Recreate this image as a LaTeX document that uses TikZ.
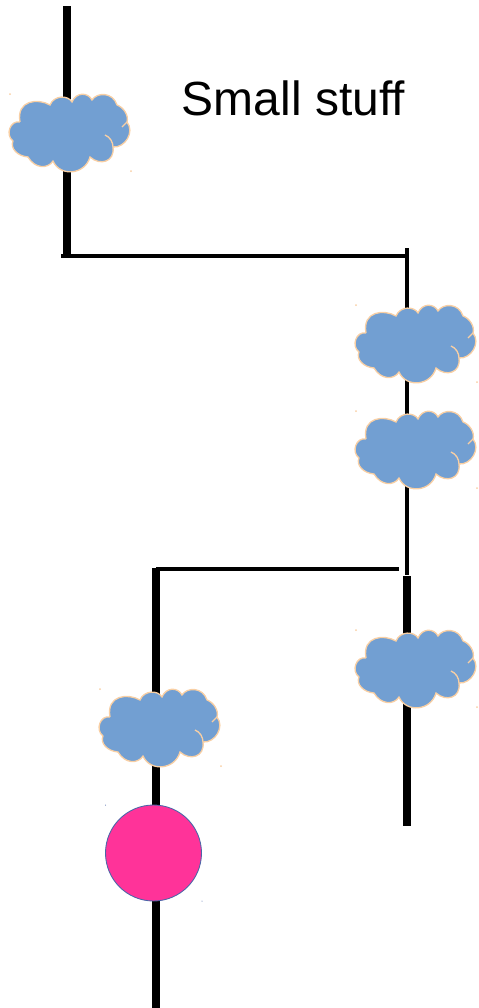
\documentclass[tikz,border=0pt]{standalone}
\usepackage{fontspec}
\setmainfont{Liberation Sans}
\definecolor{cloudblue}{HTML}{729FD2}
\definecolor{cloudedge}{HTML}{F8CFA4}
\definecolor{dotpink}{HTML}{FF3399}
\definecolor{dotedge}{HTML}{4A66A8}
\tikzset{
  thinline/.style={line width=2.2pt},
  thickline/.style={line width=4.2pt},
  cloudline/.style={draw=cloudedge,line width=0.75pt},
  pics/smallcloud/.style={code={
    \fill[cloudblue] (20,42) .. controls (10,40) and (5,55) .. (13,61)
      .. controls (10,68) and (17,76) .. (28,77)
      .. controls (35,89) and (48,89) .. (53,81)
      .. controls (60,97) and (85,95) .. (90,77)
      .. controls (100,86) and (115,82) .. (113,67)
      .. controls (125,68) and (135,52) .. (127,42)
      .. controls (129,35) and (123,27) .. (117,25)
      .. controls (113,12) and (97,12) .. (92,20)
      .. controls (88,12) and (76,12) .. (72,22)
      .. controls (68,15) and (54,15) .. (50,25)
      .. controls (38,18) and (16,20) .. (20,42) -- cycle;
    \draw[cloudline] (20,42) .. controls (10,40) and (5,55) .. (13,61)
      .. controls (10,68) and (17,76) .. (28,77)
      .. controls (35,89) and (48,89) .. (53,81)
      .. controls (60,97) and (85,95) .. (90,77)
      .. controls (100,86) and (115,82) .. (113,67)
      .. controls (125,68) and (135,52) .. (127,42)
      .. controls (129,35) and (123,27) .. (117,25)
      .. controls (113,12) and (97,12) .. (92,20)
      .. controls (88,12) and (76,12) .. (72,22)
      .. controls (68,15) and (54,15) .. (50,25)
      .. controls (38,18) and (16,20) .. (20,42);
    \draw[cloudline] (105,55) .. controls (110,57) and (113,62) .. (113,67);
    \draw[cloudline] (122,47) -- (127,42);
    \fill[cloudedge] (10,14) circle[radius=1];
    \fill[cloudedge] (131,91) circle[radius=1];
  }}
}
\begin{document}
\begin{tikzpicture}[x=0.02cm,y=-0.02cm]
\useasboundingbox (0,0) rectangle (478,1008);

\def\leftx{67}
\def\midx{156}
\def\rightx{407}

% first branch
\coordinate (topstart) at (\leftx,6);
\coordinate (topcorner) at (\leftx,256);
\coordinate (branchleft) at (61,256);
\coordinate (branchright) at (\rightx,256);
\coordinate (rightstart) at (\rightx,248);
\coordinate (rightend) at (\rightx,575);
\draw[thickline] (topstart) -- (topcorner);
\draw[thinline] (branchleft) -- (branchright);
\draw[thinline] (rightstart) -- (rightend);

% second branch
\coordinate (stemstart) at (\rightx,576);
\coordinate (stemend) at (\rightx,826);
\coordinate (lowerright) at (399,569);
\coordinate (lowerleft) at (\midx,569);
\coordinate (bottomstart) at (\midx,568);
\coordinate (bottomend) at (\midx,1008);
\draw[thickline] (stemstart) -- (stemend);
\draw[thinline] (lowerright) -- (lowerleft);
\draw[thickline] (bottomstart) -- (bottomend);

\pic at (0,80) {smallcloud};
\pic at (346,291) {smallcloud};
\pic at (346,397) {smallcloud};
\pic at (346,616) {smallcloud};
\pic at (90,675) {smallcloud};

\fill[dotedge] (105.5,805) circle[radius=0.5];
\node[circle,draw=dotedge,fill=dotpink,line width=0.5pt,minimum size=1.92cm,inner sep=0pt] (bigdot) at (153.5,853) {};
\fill[dotedge] (202,901) circle[radius=0.5];

\node[font=\fontsize{27.3pt}{32pt}\selectfont,inner sep=0pt] (title) at (293.5,98) {Small stuff};
\end{tikzpicture}
\end{document}
